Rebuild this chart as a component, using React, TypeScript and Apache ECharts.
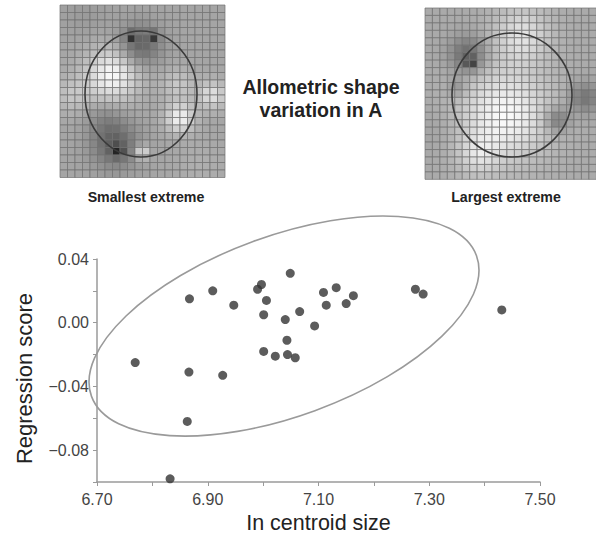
import React, { useEffect, useRef } from "react";
import * as echarts from "echarts";

// ---- data ----
const centroidSize = [
  6.769, 6.867, 6.909, 6.947, 6.866, 6.927, 6.863, 6.832, 6.99, 6.997, 7.006, 7.001, 7.049, 7.04, 7.043,
  7.001, 7.022, 7.044, 7.058, 7.066, 7.093, 7.109, 7.114, 7.132, 7.15, 7.163, 7.275, 7.289, 7.431,
];
const regressionScore = [
  -0.025, 0.015, 0.02, 0.011, -0.031, -0.033, -0.062, -0.098, 0.021, 0.024, 0.014, 0.005, 0.031, 0.002, -0.011,
  -0.018, -0.021, -0.02, -0.022, 0.007, -0.002, 0.019, 0.011, 0.022, 0.012, 0.017, 0.021, 0.018, 0.008,
];
const xTickLabels = ["6.70", "6.90", "7.10", "7.30", "7.50"];
const yTickLabels = ["0.04", "0.00", "-0.04", "-0.08"];
// confidence ellipse: centre in data units
const ellipseCentre = [7.0377, -0.0021];

// ---- decorative deformation grids: shading blobs [x, y, radius, delta] in page pixels ----
type Blob = [number, number, number, number];
const leftBlobs: Blob[] = [
  [112, 75, 26, 85],
  [212, 95, 14, 60],
  [180, 118, 14, 80],
  [178, 85, 16, 35],
  [140, 45, 20, -70],
  [131, 37, 5, -80],
  [154, 37, 5, -80],
  [115, 145, 22, -70],
  [118, 151, 6, -70],
  [142, 152, 7, 70],
  [72, 95, 18, 30],
  [105, 120, 18, -25],
  [85, 15, 25, -10],
  [200, 165, 25, 10],
];
const rightBlobs: Blob[] = [
  [505, 115, 45, 80],
  [522, 35, 28, 55],
  [468, 55, 18, -70],
  [471, 63, 6, -80],
  [585, 98, 15, -55],
  [557, 120, 12, -60],
  [458, 88, 10, -30],
  [478, 155, 20, 40],
  [440, 130, 25, -10],
];

function buildGrid(x0: number, y0: number, cols: number, rows: number, cell: number, base: number, blobs: Blob[]) {
  const els: any[] = [];
  for (let r = 0; r < rows; r++) {
    for (let c = 0; c < cols; c++) {
      const x = x0 + c * cell;
      const y = y0 + r * cell;
      const cx = x + cell / 2;
      const cy = y + cell / 2;
      let g = base;
      for (const b of blobs) {
        const d2 = (cx - b[0]) ** 2 + (cy - b[1]) ** 2;
        g += b[3] * Math.exp(-d2 / (b[2] * b[2]));
      }
      g = Math.round(Math.max(25, Math.min(250, g)));
      els.push({
        type: "rect",
        shape: { x, y, width: cell, height: cell },
        style: { fill: `rgb(${g},${g},${g})`, stroke: "#707070", lineWidth: 0.7 },
        silent: true,
      });
    }
  }
  return els;
}

export default function App() {
  const ref = useRef<HTMLDivElement>(null);
  useEffect(() => {
    if (!ref.current) return;
    const chart = echarts.init(ref.current, undefined, { renderer: "svg" });
    const font = "Liberation Sans, Arial, sans-serif";
    const points = centroidSize.map((x, i) => [x, regressionScore[i]]);
    const fmt = (labels: string[]) => (v: number) => {
      const found = labels.find((l) => Math.abs(parseFloat(l) - v) < 1e-6);
      return found ? found.replace("-", "\u2212") : "";
    };
    chart.setOption({
      animation: false,
      backgroundColor: "#ffffff",
      grid: { left: 97, right: 56, top: 259, bottom: 58 },
      xAxis: {
        type: "value",
        min: 6.7,
        max: 7.5,
        interval: 0.1,
        name: "In centroid size",
        nameLocation: "middle",
        nameGap: 30,
        nameTextStyle: { fontFamily: font, fontSize: 21.5, color: "#222" },
        axisLine: { onZero: false, lineStyle: { color: "#9a9a9a", width: 1.5 } },
        axisTick: { length: 4, lineStyle: { color: "#9a9a9a" } },
        axisLabel: { formatter: fmt(xTickLabels), fontFamily: font, fontSize: 16, color: "#444", margin: 9 },
        splitLine: { show: false },
      },
      yAxis: {
        type: "value",
        min: -0.1,
        max: 0.04,
        interval: 0.02,
        name: "Regression score",
        nameLocation: "middle",
        nameGap: 62,
        nameTextStyle: { fontFamily: font, fontSize: 22, color: "#222", padding: [0, 0, 0, -16] },
        axisLine: { show: true, onZero: false, lineStyle: { color: "#9a9a9a", width: 1.5 } },
        axisTick: { show: true, length: 4, lineStyle: { color: "#9a9a9a" } },
        axisLabel: { formatter: fmt(yTickLabels), fontFamily: font, fontSize: 16, color: "#444", margin: 8 },
        splitLine: { show: false },
      },
      series: [
        {
          type: "scatter",
          data: points,
          symbolSize: 9,
          clip: false,
          itemStyle: { color: "#333333" },
          z: 5,
        },
      ],
    });
    const c = chart.convertToPixel({ gridIndex: 0 }, ellipseCentre) as number[];
    const graphics: any[] = [
      ...buildGrid(60, 5, 22, 23, 7.5, 165, leftBlobs),
      ...buildGrid(425, 8, 23, 23, 7.45, 170, rightBlobs),
      {
        type: "ellipse",
        shape: { cx: 141, cy: 94, rx: 56, ry: 63 },
        style: { fill: "none", stroke: "#3a3a3a", lineWidth: 1.6 },
        silent: true,
      },
      {
        type: "ellipse",
        shape: { cx: 512, cy: 95, rx: 60, ry: 62 },
        style: { fill: "none", stroke: "#3a3a3a", lineWidth: 1.6 },
        silent: true,
      },
      {
        type: "text",
        x: 146,
        y: 197,
        style: { text: "Smallest extreme", fontFamily: font, fontWeight: "bold", fontSize: 14.2, fill: "#222", align: "center", verticalAlign: "middle" },
      },
      {
        type: "text",
        x: 506,
        y: 197,
        style: { text: "Largest extreme", fontFamily: font, fontWeight: "bold", fontSize: 14.2, fill: "#222", align: "center", verticalAlign: "middle" },
      },
      {
        type: "text",
        x: 321,
        y: 87,
        style: { text: "Allometric shape", fontFamily: font, fontWeight: "bold", fontSize: 19.5, fill: "#222", align: "center", verticalAlign: "middle" },
      },
      {
        type: "text",
        x: 321,
        y: 110,
        style: { text: "variation in A", fontFamily: font, fontWeight: "bold", fontSize: 19.5, fill: "#222", align: "center", verticalAlign: "middle" },
      },
      {
        type: "ellipse",
        x: c[0],
        y: c[1],
        rotation: 0.35,
        shape: { cx: 0, cy: 0, rx: 205, ry: 90.1 },
        style: { fill: "none", stroke: "#9a9a9a", lineWidth: 1.6 },
        silent: true,
        z: 1,
      },
    ];
    chart.setOption({ graphic: { elements: graphics } });
    return () => chart.dispose();
  }, []);
  return <div ref={ref} style={{ position: "fixed", left: 0, top: 0, width: 596, height: 540 }} />;
}
